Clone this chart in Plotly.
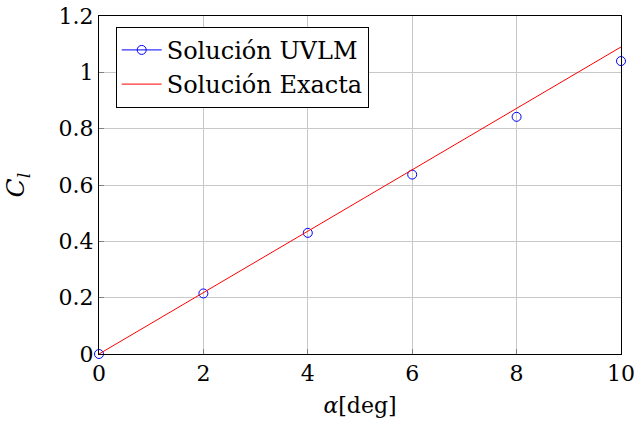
import plotly.graph_objects as go

alpha_uvlm = [0, 2, 4, 6, 8, 10]
cl_uvlm = [0.0, 0.215, 0.43, 0.637, 0.842, 1.04]
alpha_exact = [0, 10]
cl_exact = [0.0, 1.09]

x_ticks = [0, 2, 4, 6, 8, 10]
y_ticks = [0, 0.2, 0.4, 0.6, 0.8, 1, 1.2]
y_ticktext = ["0", "0.2", "0.4", "0.6", "0.8", "1", "1.2"]

FONT = "DejaVu Serif"
BLUE = "#0000ff"
RED = "#ff0000"

fig = go.Figure()
fig.add_trace(go.Scatter(x=alpha_uvlm, y=cl_uvlm, mode="markers", showlegend=False, cliponaxis=False,
                         marker=dict(symbol="circle-open", size=9, color=BLUE, line=dict(width=1, color=BLUE))))
fig.add_trace(go.Scatter(x=[None], y=[None], mode="lines+markers", name="Solución UVLM",
                         line=dict(color=BLUE, width=1),
                         marker=dict(symbol="circle-open", size=9, color=BLUE, line=dict(width=1, color=BLUE))))
fig.add_trace(go.Scatter(x=alpha_exact, y=cl_exact, mode="lines", name="Solución Exacta",
                         line=dict(color=RED, width=1)))

fig.update_layout(
    width=636, height=434,
    margin=dict(l=99, r=15, t=16, b=80),
    plot_bgcolor="white", paper_bgcolor="white",
    font=dict(family=FONT, size=22, color="black"),
    legend=dict(x=0.032, y=0.968, xanchor="left", yanchor="top",
                bgcolor="white", bordercolor="black", borderwidth=1,
                font=dict(family=FONT, size=24), tracegroupgap=0,
                itemwidth=40),
    xaxis=dict(range=[0, 10], tickvals=x_ticks, ticks="inside", ticklen=5, tickcolor="#808080",
               showgrid=True, gridcolor="#c8c8c8", gridwidth=1, automargin=False,
               showline=True, linecolor="black", linewidth=1, mirror=True, zeroline=False,
               title=dict(text="<i>α</i>[deg]", standoff=12, font=dict(family=FONT, size=22)),
               tickfont=dict(family=FONT, size=22)),
    yaxis=dict(range=[0, 1.2], tickvals=y_ticks, ticktext=y_ticktext, ticks="inside", ticklen=5, tickcolor="#808080",
               showgrid=True, gridcolor="#c8c8c8", gridwidth=1, automargin=False,
               showline=True, linecolor="black", linewidth=1, mirror=True, zeroline=False,
               title=dict(text="<i>C<sub>l</sub></i>", standoff=26, font=dict(family=FONT, size=25)),
               tickfont=dict(family=FONT, size=22)),
)
fig.write_html("out.html")
